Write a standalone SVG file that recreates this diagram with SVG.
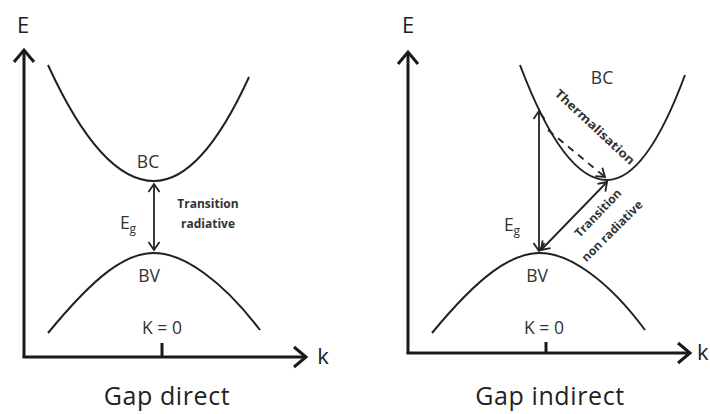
<svg xmlns="http://www.w3.org/2000/svg" width="710" height="414" viewBox="0 0 710 414">
<style>
text{font-family:"Open Sans","Liberation Sans",sans-serif;fill:#222}
.ax{stroke:#1a1a1a;stroke-width:3;fill:none}
.cv{stroke:#222;stroke-width:2;fill:none}
.ar{stroke:#222;stroke-width:1.8;fill:none;marker-start:url(#h);marker-end:url(#h)}
.lbl{font-size:17.5px;text-anchor:middle;fill:#333}
.axl{font-size:22px;text-anchor:middle}
.sm{font-size:12px;font-weight:bold;text-anchor:middle;fill:#333}
.cap{font-size:25px;text-anchor:middle;letter-spacing:0.6px}
</style>
<defs>
<marker id="h" markerUnits="userSpaceOnUse" markerWidth="14" markerHeight="14" refX="11" refY="7" orient="auto-start-reverse">
<path d="M3,1.5 L11,7 L3,12.5" fill="none" stroke="#222" stroke-width="1.8"/>
</marker>
<marker id="ha" markerUnits="userSpaceOnUse" markerWidth="18" markerHeight="24" refX="14" refY="12" orient="auto">
<path d="M2,2 L14,12 L2,22" fill="none" stroke="#1a1a1a" stroke-width="3"/>
</marker>
</defs>
<rect width="710" height="414" fill="#fff"/>
<g id="direct">
<g id="axes-left">
<path class="ax" d="M24,357 L24,50" marker-end="url(#ha)"/>
<path class="ax" d="M22.5,357 L306,357" marker-end="url(#ha)"/>
<path class="ax" d="M162,343 L162,357"/>
<text x="23" y="33" class="axl">E</text>
<text x="323" y="364" class="axl">k</text>
</g>
<g id="bc-left">
<path class="cv" d="M48,65 Q101,181 154,181 Q201.5,181 249,77"/>
<text x="148" y="168" class="lbl">BC</text>
</g>
<g id="bv-left">
<path class="cv" d="M48,333 C95,276 125,253 154,253 S222,280 260,330"/>
<text x="149" y="282" class="lbl">BV</text>
</g>
<text x="162" y="334" class="lbl">K = 0</text>
<text x="128" y="229" class="lbl">E<tspan font-size="12" dy="4">g</tspan></text>
<text x="208" y="208" class="sm">Transition</text>
<text x="208" y="228" class="sm">radiative</text>
<text x="167" y="405" class="cap">Gap direct</text>
</g>
<g id="indirect">
<g id="axes-right">
<path class="ax" d="M408,353 L408,52" marker-end="url(#ha)"/>
<path class="ax" d="M406.5,353 L690,353" marker-end="url(#ha)"/>
<path class="ax" d="M546,342 L546,353"/>
<text x="408" y="33" class="axl">E</text>
<text x="697" y="360" style="font-size:22px">k</text>
</g>
<g id="bc-right">
<path class="cv" d="M520,65 Q563.5,180 607,180 Q646,180 685,75"/>
<text x="602" y="84" class="lbl">BC</text>
</g>
<g id="bv-right">
<path class="cv" d="M432,333 C479,276 511,253 540,253 S608,280 645,330"/>
<text x="537" y="282" class="lbl">BV</text>
</g>
<text x="544" y="334" class="lbl">K = 0</text>
<text x="512" y="231" class="lbl">E<tspan font-size="12" dy="4">g</tspan></text>
<text x="550" y="405" class="cap">Gap indirect</text>
<text class="sm" transform="translate(592,130) rotate(43)" textLength="104" lengthAdjust="spacingAndGlyphs">Thermalisation</text>
<text class="sm" transform="translate(601,216) rotate(-46)">Transition</text>
<text class="sm" transform="translate(615,234) rotate(-45)">non radiative</text>
</g>
<g id="connectors">
<path class="ar" d="M154,184 L154,250"/>
<path class="ar" d="M539,111 L539,251"/>
<path class="ar" d="M541,250 L607,182"/>
<path d="M548,130 L605,177" fill="none" stroke="#222" stroke-width="1.8" stroke-dasharray="7,6" marker-end="url(#h)"/>
</g>
</svg>
